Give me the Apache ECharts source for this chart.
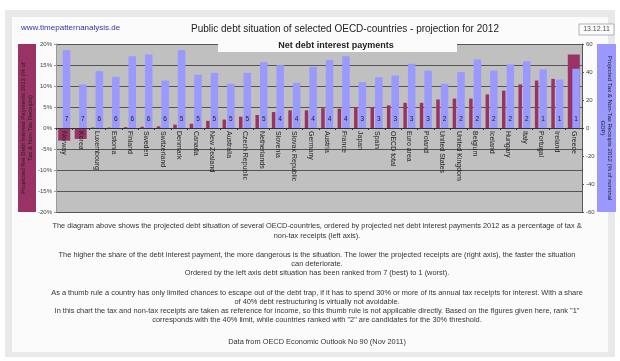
<!DOCTYPE html>
<html>
<head>
<meta charset="utf-8">
<script src="https://cdn.jsdelivr.net/npm/echarts@6/dist/echarts.min.js"></script>
<style>
  html, body { margin: 0; padding: 0; background: #ffffff; }
  #chart { width: 620px; height: 361px; }
</style>
</head>
<body>
<div id="chart"></div>
<script>
// Countries ordered by projected net debt interest payments 2012
const countries = [
  'Norway', 'Korea', 'Luxembourg', 'Estonia', 'Finland', 'Sweden', 'Switzerland', 'Denmark',
  'Canada', 'New Zealand', 'Australia', 'Czech Republic', 'Netherlands', 'Slovenia',
  'Slovak Republic', 'Germany', 'Austria', 'France', 'Japan', 'Spain', 'OECD total',
  'Euro area', 'Poland', 'United States', 'United Kingdom', 'Belgium', 'Iceland',
  'Hungary', 'Italy', 'Portugal', 'Ireland', 'Greece'
];

// Net debt interest payments 2012, % of tax & non-tax receipts (left axis)
const interestPayments = [
  -3.0, -2.6, 0.1, 0.1, 0.2, 0.3, 0.4, 0.8,
  1.0, 1.7, 2.0, 2.7, 3.1, 3.8,
  4.2, 4.2, 4.7, 4.6, 5.0, 5.0, 5.4,
  6.0, 6.0, 6.8, 7.0, 7.0, 8.0,
  8.9, 10.4, 11.3, 11.7, 17.5
];

// Countries whose interest bar is drawn as a wide highlight bar
const highlighted = ['Norway', 'Korea', 'Greece'];

// Tax & non-tax receipts 2012, % of nominal GDP (right axis)
const receipts = [
  55.6, 31.1, 40.6, 36.5, 51.3, 52.5, 33.9, 55.6,
  38.0, 39.4, 31.6, 39.4, 47.0, 44.9,
  32.3, 43.7, 48.5, 51.3, 32.7, 36.3, 37.5,
  45.8, 41.0, 31.6, 39.9, 48.9, 41.0,
  45.4, 47.7, 41.8, 34.6, 42.3
];

// Debt situation rank, 7 (best) to 1 (worst)
const ranks = [
  7, 7, 6, 6, 6, 6, 6, 5,
  5, 5, 5, 5, 5, 4,
  4, 4, 4, 4, 3, 3, 3,
  3, 3, 2, 2, 2, 2,
  2, 2, 1, 1, 1
];

const leftTicks = { min: -20, max: 20, interval: 5 };
const rightTicks = { min: -60, max: 60, interval: 20 };

const narrowInterest = interestPayments.map((v, i) => highlighted.includes(countries[i]) ? null : v);
const wideInterest = interestPayments.map((v, i) => highlighted.includes(countries[i]) ? v : null);

const notes = [
  { y: 226, t: 'The diagram above shows the projected debt situation of several OECD-countries, ordered by projected net debt interest payments 2012 as a percentage of tax &' },
  { y: 236, t: 'non-tax receipts (left axis).' },
  { y: 255, t: 'The higher the share of the debt interest payment, the more dangerous is the situation. The lower the projected receipts are (right axis), the faster the situation' },
  { y: 264, t: 'can deteriorate.' },
  { y: 273, t: 'Ordered by the left axis debt situation has been ranked from 7 (best) to 1 (worst).' },
  { y: 293, t: 'As a thumb rule a country has only limited chances to escape out of the debt trap, if it has to spend 30% or more of its annual tax receipts for interest. With a share' },
  { y: 302, t: 'of 40% debt restructuring is virtually not avoidable.' },
  { y: 311, t: 'In this chart the tax and non-tax receipts are taken as reference for income, so this thumb rule is not applicable directly. Based on the figures given here, rank "1"' },
  { y: 320, t: 'corresponds with the 40% limit, while countries ranked with "2" are candidates for the 30% threshold.' },
  { y: 342, t: 'Data from OECD Economic Outlook No 90 (Nov 2011)' }
];

const FONT = 'Liberation Sans, Arial, sans-serif';
const chart = echarts.init(document.getElementById('chart'), null, { renderer: 'canvas' });

const graphics = [
  // outer frame and panel
  { type: 'rect', shape: { x: 5, y: 10, width: 610, height: 347 }, style: { fill: '#e9e9e9' }, z: -10 },
  { type: 'rect', shape: { x: 12, y: 17, width: 596, height: 335 }, style: { fill: '#fbfbfb' }, z: -9 },
  // header
  { type: 'text', x: 21, y: 28, style: { text: 'www.timepatternanalysis.de', fill: '#3333aa', font: '8px ' + FONT, textVerticalAlign: 'middle' } },
  { type: 'text', x: 345, y: 29, style: { text: 'Public debt situation of selected OECD-countries - projection for 2012', fill: '#222', font: '10px ' + FONT, textAlign: 'center', textVerticalAlign: 'middle' } },
  { type: 'rect', shape: { x: 579, y: 24, width: 35, height: 11 }, style: { fill: '#fbfbfb', stroke: '#999', lineWidth: 0.7 } },
  { type: 'text', x: 596.5, y: 29.5, style: { text: '13.12.11', fill: '#555', font: '7px ' + FONT, textAlign: 'center', textVerticalAlign: 'middle' } },
  // subtitle box over the plot top
  { type: 'rect', shape: { x: 218, y: 41, width: 239, height: 11 }, style: { fill: '#fbfbfb' }, z: 5 },
  { type: 'text', x: 336, y: 46, style: { text: 'Net debt interest payments', fill: '#222', font: 'bold 9px ' + FONT, textAlign: 'center', textVerticalAlign: 'middle' }, z: 6 },
  // axis title boxes
  { type: 'rect', shape: { x: 18, y: 44, width: 18, height: 168 }, style: { fill: '#993366' } },
  { type: 'text', x: 27, y: 128, rotation: Math.PI / 2,
    style: { text: 'Projected Net Debt Interest Payments 2012 (% of\nTax & Non-Tax Receipts)', fill: '#222', font: '6px ' + FONT, textAlign: 'center', textVerticalAlign: 'middle', lineHeight: 7 } },
  { type: 'rect', shape: { x: 597, y: 44, width: 19, height: 168 }, style: { fill: '#9999ff' } },
  { type: 'text', x: 606, y: 128, rotation: -Math.PI / 2,
    style: { text: 'Projected Tax & Non-Tax Receipts 2012 (% of nominal\nGDP)', fill: '#222', font: '6px ' + FONT, textAlign: 'center', textVerticalAlign: 'middle', lineHeight: 7 } }
];
notes.forEach(n => graphics.push({
  type: 'text', x: 317, y: n.y,
  style: { text: n.t, fill: '#333', font: '7.4px ' + FONT, textAlign: 'center', textVerticalAlign: 'middle' }
}));

chart.setOption({
  animation: false,
  backgroundColor: '#ffffff',
  textStyle: { fontFamily: FONT },
  graphic: graphics,
  grid: { left: 56, right: 38, top: 44, bottom: 149, show: true, backgroundColor: '#c0c0c0', borderWidth: 0 },
  xAxis: [
    {
      // category axis drawn across the middle of the plot, where both value axes are zero
      type: 'category', data: countries, position: 'bottom', offset: -84, z: 4,
      axisLine: { show: true, onZero: false, lineStyle: { color: '#333', width: 1 } },
      axisTick: { show: true, length: 2, lineStyle: { color: '#333' } },
      axisLabel: { rotate: -90, fontSize: 7, color: '#222', interval: 0, margin: 3 },
      splitLine: { show: false }
    },
    { type: 'category', data: countries, show: false, axisLine: { onZero: false } }
  ],
  yAxis: [
    {
      type: 'value', position: 'left', min: leftTicks.min, max: leftTicks.max, interval: leftTicks.interval,
      axisLine: { show: true, onZero: false, lineStyle: { color: '#999' } },
      axisTick: { show: true, length: 2, lineStyle: { color: '#999' } },
      axisLabel: { formatter: '{value}%', fontSize: 6, color: '#444', margin: 4 },
      splitLine: { show: true, lineStyle: { color: '#555', width: 1 } }
    },
    {
      type: 'value', position: 'right', min: rightTicks.min, max: rightTicks.max, interval: rightTicks.interval,
      axisLine: { show: true, onZero: false, lineStyle: { color: '#555' } },
      axisTick: { show: true, length: 2, lineStyle: { color: '#555' } },
      axisLabel: { fontSize: 6, color: '#444', margin: 4 },
      splitLine: { show: false }
    }
  ],
  series: [
    {
      name: 'Interest (wide)', type: 'bar', xAxisIndex: 1, yAxisIndex: 0,
      data: wideInterest, barWidth: 12, itemStyle: { color: '#993366' }
    },
    {
      name: 'Interest', type: 'bar', xAxisIndex: 0, yAxisIndex: 0,
      data: narrowInterest, barWidth: 3.5, barGap: '30%', itemStyle: { color: '#993366' }
    },
    {
      name: 'Receipts', type: 'bar', xAxisIndex: 0, yAxisIndex: 1,
      data: receipts, barWidth: 7.5, barGap: '30%', itemStyle: { color: '#9999ff' },
      label: {
        show: true, position: 'insideBottom', distance: 5, fontSize: 6.5, color: '#222',
        formatter: p => String(ranks[p.dataIndex])
      }
    }
  ]
});
</script>
</body>
</html>
